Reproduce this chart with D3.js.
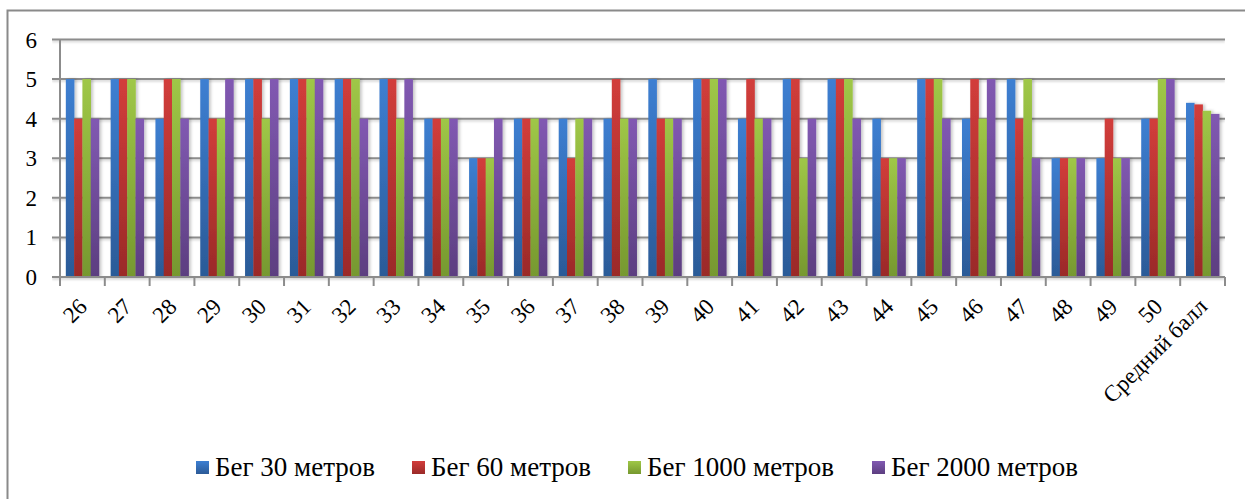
<!DOCTYPE html>
<html><head><meta charset="utf-8">
<script src="https://cdn.jsdelivr.net/npm/d3@7"></script>
</head>
<body style="margin:0">
<svg id="chart" width="1245" height="499"></svg>
<script>
const categories = ["26","27","28","29","30","31","32","33","34","35","36","37","38","39","40","41","42","43","44","45","46","47","48","49","50","Средний балл"];
const seriesNames = ["Бег 30 метров","Бег 60 метров","Бег 1000 метров","Бег 2000 метров"];
const run30   = [5,5,4,5,5,5,5,5,4,3,4,4,4,5,5,4,5,5,4,5,4,5,3,3,4,4.40];
const run60   = [4,5,5,4,5,5,5,5,4,3,4,3,5,4,5,5,5,5,3,5,5,4,3,4,4,4.36];
const run1000 = [5,5,5,4,4,5,5,4,4,3,4,4,4,4,5,4,3,5,3,5,4,5,3,3,5,4.20];
const run2000 = [4,4,4,5,5,5,4,5,4,4,4,4,4,4,5,4,4,4,3,4,5,3,3,3,5,4.12];
const yTicks = [0,1,2,3,4,5,6];
const colorsTop = ["#3d7fd2","#d23d3b","#9fc747","#8159b2"];
const colorsBot = ["#2b5a97","#9a2a28","#76982f","#5c3e80"];

const series = [run30, run60, run1000, run2000];
const svg = d3.select("#chart");

svg.append("rect").attr("x",7.5).attr("y",10.5).attr("width",1250).attr("height",500)
  .attr("fill","none").attr("stroke","#8a8a8a").attr("stroke-width",2);

const defs = svg.append("defs");
series.forEach((s,i)=>{
  const g = defs.append("linearGradient").attr("id","grad"+i).attr("x1",0).attr("y1",0).attr("x2",0).attr("y2",1);
  g.append("stop").attr("offset","0%").attr("stop-color",colorsTop[i]);
  g.append("stop").attr("offset","100%").attr("stop-color",colorsBot[i]);
});
const f = defs.append("filter").attr("id","shadow").attr("x","-20%").attr("y","-5%").attr("width","160%").attr("height","110%");
f.append("feDropShadow").attr("dx",2).attr("dy",0).attr("stdDeviation",1.6).attr("flood-color","#000").attr("flood-opacity",0.22);
const fg = defs.append("filter").attr("id","gshadow").attr("x","0").attr("y","-100%").attr("width","100%").attr("height","400%");
fg.append("feDropShadow").attr("dx",0).attr("dy",1.5).attr("stdDeviation",1).attr("flood-color","#000").attr("flood-opacity",0.2);

const pL = 60, pR = 1225, pT = 39.5, pB = 277;
const x = d3.scaleBand().domain(categories).range([pL,pR]).paddingInner(0.26).paddingOuter(0.13);
const xs = d3.scaleBand().domain(d3.range(series.length)).range([0,x.bandwidth()]);
const y = d3.scaleLinear().domain([0,6]).range([pB,pT]);

const grid = svg.append("g").attr("filter","url(#gshadow)");
grid.selectAll("line").data(yTicks).join("line")
  .attr("x1",pL-8).attr("x2",pR).attr("y1",d=>y(d)).attr("y2",d=>y(d))
  .attr("stroke","#8c8c8c").attr("stroke-width",2);

const step = x.step();
const groups = svg.append("g").selectAll("g").data(categories).join("g")
  .attr("transform",d=>`translate(${x(d)},0)`).attr("filter","url(#shadow)");
groups.selectAll("rect").data((d,ci)=>series.map((s,si)=>({si, v:s[ci]}))).join("rect")
  .attr("x",d=>xs(d.si)).attr("width",xs.bandwidth()+0.3)
  .attr("y",d=>y(d.v)).attr("height",d=>y(0)-y(d.v))
  .attr("fill",d=>`url(#grad${d.si})`);

svg.append("line").attr("x1",pL).attr("x2",pL).attr("y1",pT).attr("y2",pB+9)
  .attr("stroke","#8c8c8c").attr("stroke-width",2);
svg.append("line").attr("x1",pL-8).attr("x2",pR).attr("y1",pB).attr("y2",pB)
  .attr("stroke","#8c8c8c").attr("stroke-width",2);
const boundaries = categories.map(c=>x(c) - step*x.paddingInner()/2).concat([pR]);
svg.append("g").selectAll("line").data(boundaries).join("line")
  .attr("x1",d=>d).attr("x2",d=>d).attr("y1",pB).attr("y2",pB+9)
  .attr("stroke","#8c8c8c").attr("stroke-width",2);

// texts appended directly to the svg root
yTicks.forEach(t=>{
  svg.append("text").attr("x",37).attr("y",y(t)+8).attr("text-anchor","end")
    .attr("font-size",23).style("font-family",'"Liberation Serif"').text(t);
});
categories.forEach(c=>{
  svg.append("text")
    .attr("transform",`translate(${x(c)+x.bandwidth()/2+6},${pB+31}) rotate(-45)`)
    .attr("text-anchor","end").attr("font-size",23).style("font-family",'"Liberation Serif"').text(c);
});
const legX = [196,412,628,872];
seriesNames.forEach((n,i)=>{
  svg.append("rect").attr("x",legX[i]).attr("y",461).attr("width",13).attr("height",13)
    .attr("fill",`url(#grad${i})`);
  svg.append("text").attr("x",legX[i]+19).attr("y",476)
    .attr("font-size",27).style("font-family",'"Liberation Serif"').text(n);
});
</script>
</body></html>
